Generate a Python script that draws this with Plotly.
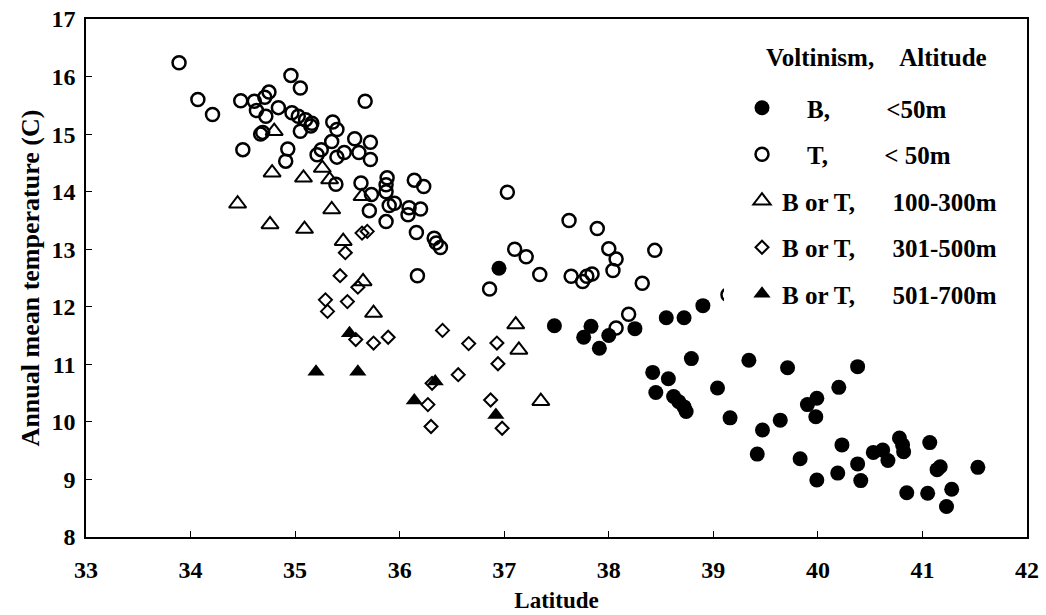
import plotly.graph_objects as go

# Voltinism B, altitude <50m (filled circles)
b_lat = [36.95, 37.48, 37.83, 37.76, 37.91, 38.00, 38.25, 38.55, 38.72, 38.90,
         38.79, 39.34, 38.42, 38.57, 38.45, 38.62, 38.67, 38.72, 38.74, 39.04,
         39.16, 39.47, 39.64, 39.42, 39.83, 39.99, 39.90, 39.99, 39.98, 39.71,
         40.38, 40.20, 40.23, 40.19, 40.38, 40.41, 40.53, 40.62, 40.67, 40.78,
         40.82, 40.81, 41.07, 41.17, 41.14, 41.53, 40.85, 41.05, 41.28, 41.23]
b_temp = [12.67, 11.67, 11.66, 11.47, 11.28, 11.50, 11.62, 11.81, 11.81, 12.02,
          11.10, 11.07, 10.86, 10.75, 10.51, 10.44, 10.35, 10.26, 10.18, 10.59,
          10.07, 9.86, 10.03, 9.44, 9.36, 8.99, 10.30, 10.41, 10.09, 10.94,
          10.96, 10.60, 9.60, 9.11, 9.27, 8.98, 9.47, 9.51, 9.33, 9.72,
          9.48, 9.60, 9.64, 9.22, 9.17, 9.21, 8.77, 8.76, 8.83, 8.53]

# Voltinism T, altitude <50m (open circles)
t_lat = [33.89, 34.07, 34.21, 34.48, 34.61, 34.71, 34.75, 34.63, 34.72, 34.84,
         34.96, 35.05, 34.97, 35.03, 35.10, 35.16, 35.15, 35.05, 34.69, 34.67,
         34.50, 34.93, 34.91, 35.67, 35.36, 35.40, 35.57, 35.72, 35.35, 35.25,
         35.21, 35.40, 35.47, 35.61, 35.72, 35.39, 35.63, 35.73, 35.71, 35.88,
         35.87, 35.87, 36.14, 36.23, 35.95, 35.90, 36.09, 36.08, 36.20, 35.87,
         36.16, 36.33, 36.35, 36.39, 36.17, 37.03, 37.10, 37.21, 37.34, 36.86,
         37.62, 37.64, 37.75, 37.79, 37.84, 37.89, 38.00, 38.07, 38.04, 38.44,
         38.32, 38.19, 38.07, 39.14]
t_temp = [16.24, 15.60, 15.34, 15.58, 15.57, 15.64, 15.73, 15.41, 15.31, 15.46,
          16.02, 15.80, 15.37, 15.31, 15.25, 15.19, 15.14, 15.05, 15.03, 15.00,
          14.73, 14.74, 14.53, 15.57, 15.21, 15.08, 14.92, 14.86, 14.87, 14.73,
          14.64, 14.60, 14.68, 14.68, 14.56, 14.13, 14.15, 13.95, 13.67, 14.24,
          14.12, 14.00, 14.20, 14.09, 13.80, 13.76, 13.72, 13.60, 13.70, 13.48,
          13.29, 13.19, 13.11, 13.03, 12.54, 13.99, 13.00, 12.87, 12.56, 12.31,
          13.50, 12.53, 12.44, 12.53, 12.57, 13.36, 13.01, 12.83, 12.63, 12.98,
          12.41, 11.87, 11.63, 12.21]

# B or T, 100-300m (open triangles)
alt1_lat = [34.80, 34.78, 35.08, 35.26, 35.33, 34.45, 35.35, 34.76, 35.09, 35.46,
            35.64, 35.65, 35.75, 37.11, 37.14, 37.35]
alt1_temp = [15.05, 14.33, 14.24, 14.41, 14.21, 13.79, 13.69, 13.43, 13.35, 13.14,
             13.92, 12.44, 11.89, 11.69, 11.25, 10.36]

# B or T, 301-500m (open diamonds)
alt2_lat = [35.64, 35.69, 35.48, 35.43, 35.29, 35.31, 35.50, 35.60, 35.58, 35.75,
            35.89, 36.41, 36.66, 36.93, 36.94, 36.56, 36.31, 36.27, 36.30, 36.87,
            36.98]
alt2_temp = [13.28, 13.31, 12.94, 12.54, 12.12, 11.92, 12.09, 12.34, 11.43, 11.37,
             11.47, 11.59, 11.36, 11.37, 11.01, 10.82, 10.67, 10.30, 9.92, 10.38,
             9.89]

# B or T, 501-700m (filled triangles)
alt3_lat = [35.52, 35.20, 35.60, 36.34, 36.14, 36.92]
alt3_temp = [11.54, 10.87, 10.87, 10.70, 10.37, 10.12]

x_ticks = [33, 34, 35, 36, 37, 38, 39, 40, 41, 42]
y_ticks = [8, 9, 10, 11, 12, 13, 14, 15, 16, 17]

NB = "\u00a0"
names = [
    NB * 4 + "B," + NB * 9 + "<50m",
    NB * 4 + "T," + NB * 9 + "< 50m",
    "B or T," + NB * 6 + "100-300m",
    "B or T," + NB * 6 + "301-500m",
    "B or T," + NB * 6 + "501-700m",
]
legend_title = "Voltinism," + NB * 4 + "Altitude"

FONT = "Liberation Serif"

fig = go.Figure()
fig.add_trace(go.Scatter(x=b_lat, y=b_temp, mode="markers", name=names[0], legendgroup="g1",
                         marker=dict(symbol="circle", size=15, color="black")))
fig.add_trace(go.Scatter(x=t_lat, y=t_temp, mode="markers", name=names[1], legendgroup="g2",
                         marker=dict(symbol="circle-open", size=13, color="black",
                                     line=dict(width=2.5, color="black"))))
fig.add_trace(go.Scatter(x=alt1_lat, y=alt1_temp, mode="markers", name=names[2], legendgroup="g3",
                         marker=dict(symbol="triangle-up-open", size=15, color="black",
                                     line=dict(width=2, color="black"))))
fig.add_trace(go.Scatter(x=alt2_lat, y=alt2_temp, mode="markers", name=names[3], legendgroup="g4",
                         marker=dict(symbol="diamond-open", size=10, color="black",
                                     line=dict(width=2, color="black"))))
fig.add_trace(go.Scatter(x=alt3_lat, y=alt3_temp, mode="markers", name=names[4], legendgroup="g5",
                         marker=dict(symbol="triangle-up", size=15, color="black")))

axis_common = dict(
    showline=True, linecolor="black", linewidth=1.5, mirror=True,
    ticks="inside", ticklen=6, tickcolor="black", tickwidth=1,
    showgrid=False, zeroline=False, automargin=False,
    tickfont=dict(family=FONT, size=24, color="black", weight="bold"),
)

fig.update_xaxes(range=[33, 42], tickvals=x_ticks, ticktext=[str(v) for v in x_ticks],
                 ticklabelstandoff=10,
                 title=dict(text="Latitude", font=dict(family=FONT, size=23, color="black", weight="bold"),
                            standoff=10),
                 **axis_common)
fig.update_yaxes(range=[8, 17], tickvals=y_ticks, ticktext=[str(v) for v in y_ticks],
                 ticklabelstandoff=4,
                 title=dict(text="Annual mean temperature (C)",
                            font=dict(family=FONT, size=26, color="black", weight="bold"),
                            standoff=4),
                 **axis_common)

# white panel behind the legend (the legend box of the original hides a marker)
PX_W, PX_H = 941.0, 518.0
fig.add_shape(type="rect", xref="paper", yref="paper", layer="above",
              x0=(724 - 86) / PX_W, x1=(1005 - 86) / PX_W,
              y0=(537 - 316) / PX_H, y1=(537 - 30) / PX_H,
              fillcolor="white", line=dict(width=0))

fig.add_annotation(text=legend_title, xref="paper", yref="paper",
                   x=(764 - 86) / PX_W, y=(537 - 58) / PX_H, xanchor="left", yanchor="middle",
                   showarrow=False,
                   font=dict(family=FONT, size=25, color="black", weight="bold"))

fig.update_layout(
    width=1046, height=615,
    margin=dict(l=86, r=19, t=19, b=78, autoexpand=False),
    plot_bgcolor="white", paper_bgcolor="white",
    font=dict(family=FONT, color="black"),
    showlegend=True,
    legend=dict(
        x=(742 - 86) / PX_W, y=(537 - 85) / PX_H, xanchor="left", yanchor="top",
        bgcolor="rgba(255,255,255,0)", borderwidth=0,
        font=dict(family=FONT, size=25, color="black", weight="bold"),
        tracegroupgap=11, itemwidth=30, itemsizing="trace",
    ),
)

fig.write_html("out.html")
